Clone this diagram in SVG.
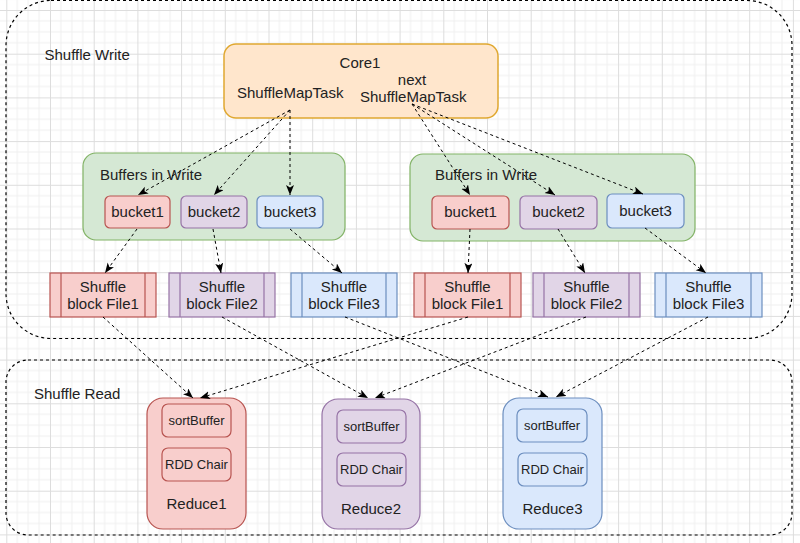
<svg xmlns="http://www.w3.org/2000/svg" width="800" height="543" viewBox="0 0 800 543">
<defs>
<pattern id="grid" patternUnits="userSpaceOnUse" x="6.3" y="10" width="43.7" height="43.7">
<path d="M10.925 0V43.7M21.85 0V43.7M32.775 0V43.7M0 10.925H43.7M0 21.85H43.7M0 32.775H43.7" stroke="#efefef" stroke-width="1" fill="none"/>
<path d="M0.5 0V43.7M0 0.5H43.7" stroke="#dddddd" stroke-width="1" fill="none"/>
</pattern>
<marker id="arr" markerUnits="userSpaceOnUse" markerWidth="11" markerHeight="9" refX="10" refY="4" orient="auto">
<path d="M0,0 L10,4 L0,8 L2.5,4 Z" fill="#000"/>
</marker>
<style>
text{font-family:"Liberation Sans",Arial,sans-serif;font-size:15px;fill:#222;}
.c{text-anchor:middle;}
.s{font-size:13px;}
.cont{fill:none;stroke:#000;stroke-width:1.2;stroke-dasharray:3 3;}
.conn path{fill:none;stroke:#000;stroke-width:1;stroke-dasharray:3 3;marker-end:url(#arr);}
.red{fill:#f8cecc;stroke:#b85450;stroke-width:1.2;}
.pur{fill:#e1d5e7;stroke:#9673a6;stroke-width:1.2;}
.blu{fill:#dae8fc;stroke:#6c8ebf;stroke-width:1.2;}
.grn{fill:#d5e8d4;stroke:#82b366;stroke-width:1.2;}
.org{fill:#ffe6cc;stroke:#e0a830;stroke-width:1.5;}
</style>
</defs>
<rect width="800" height="543" fill="#fff"/>
<rect width="800" height="543" fill="url(#grid)"/>

<g id="shuffle-write">
<rect class="cont" x="6" y="0.5" width="786" height="338" rx="45" ry="45"/>
<text x="44.5" y="60">Shuffle Write</text>
</g>
<g id="shuffle-read">
<rect class="cont" x="6" y="360" width="786" height="175" rx="22" ry="22"/>
<text x="34" y="399">Shuffle Read</text>
</g>

<g id="core1">
<rect class="org" x="224" y="44" width="274" height="74" rx="12" ry="12"/>
<text class="c" x="360" y="68">Core1</text>
<text x="237" y="98">ShuffleMapTask</text>
<text class="c" x="412" y="85">next</text>
<text x="360" y="102">ShuffleMapTask</text>
</g>

<g id="buffers-left">
<rect class="grn" x="83" y="153" width="262" height="87" rx="13" ry="13"/>
<text x="100" y="180">Buffers in Write</text>
</g>
<g id="buffers-right">
<rect class="grn" x="410" y="154" width="285" height="87" rx="13" ry="13"/>
<text x="435" y="180">Buffers in Write</text>
</g>

<g id="l-bucket1"><rect class="red" x="105" y="196" width="65" height="32" rx="5"/><text class="c" x="137.5" y="217">bucket1</text></g>
<g id="l-bucket2"><rect class="pur" x="181" y="196" width="66" height="32" rx="5"/><text class="c" x="214" y="217">bucket2</text></g>
<g id="l-bucket3"><rect class="blu" x="257" y="196" width="66" height="32" rx="5"/><text class="c" x="290" y="217">bucket3</text></g>
<g id="r-bucket1"><rect class="red" x="432" y="196" width="77" height="33" rx="5"/><text class="c" x="470.5" y="217">bucket1</text></g>
<g id="r-bucket2"><rect class="pur" x="520" y="196" width="77" height="33" rx="5"/><text class="c" x="558.5" y="217">bucket2</text></g>
<g id="r-bucket3"><rect class="blu" x="607" y="194" width="77" height="34" rx="5"/><text class="c" x="645.5" y="216">bucket3</text></g>

<g id="l-file1"><rect class="red" x="50" y="273" width="106" height="44"/><path class="red" d="M61 273V317M145 273V317"/><text class="c" x="103" y="292">Shuffle</text><text class="c" x="103" y="309">block File1</text></g>
<g id="l-file2"><rect class="pur" x="169" y="273" width="106" height="44"/><path class="pur" d="M180 273V317M264 273V317"/><text class="c" x="222" y="292">Shuffle</text><text class="c" x="222" y="309">block File2</text></g>
<g id="l-file3"><rect class="blu" x="291" y="273" width="106" height="44"/><path class="blu" d="M302 273V317M386 273V317"/><text class="c" x="344" y="292">Shuffle</text><text class="c" x="344" y="309">block File3</text></g>
<g id="r-file1"><rect class="red" x="414" y="273" width="107" height="44"/><path class="red" d="M425 273V317M510 273V317"/><text class="c" x="467.5" y="292">Shuffle</text><text class="c" x="467.5" y="309">block File1</text></g>
<g id="r-file2"><rect class="pur" x="533" y="273" width="107" height="44"/><path class="pur" d="M544 273V317M629 273V317"/><text class="c" x="586.5" y="292">Shuffle</text><text class="c" x="586.5" y="309">block File2</text></g>
<g id="r-file3"><rect class="blu" x="655" y="273" width="107" height="44"/><path class="blu" d="M666 273V317M751 273V317"/><text class="c" x="708.5" y="292">Shuffle</text><text class="c" x="708.5" y="309">block File3</text></g>

<g id="reduce1">
<rect class="red" x="147" y="398" width="99" height="131" rx="16"/>
<rect class="red" x="162" y="404" width="69" height="33" rx="6"/><text class="c s" x="196.5" y="425">sortBuffer</text>
<rect class="red" x="162" y="448" width="69" height="33" rx="6"/><text class="c s" x="196.5" y="469">RDD Chair</text>
<text class="c" x="196.5" y="509">Reduce1</text>
</g>
<g id="reduce2">
<rect class="pur" x="322" y="399" width="98" height="130" rx="16"/>
<rect class="pur" x="337" y="410" width="69" height="33" rx="6"/><text class="c s" x="371.5" y="431">sortBuffer</text>
<rect class="pur" x="337" y="453" width="69" height="33" rx="6"/><text class="c s" x="371.5" y="474">RDD Chair</text>
<text class="c" x="371" y="514">Reduce2</text>
</g>
<g id="reduce3">
<rect class="blu" x="503" y="398" width="99" height="131" rx="16"/>
<rect class="blu" x="517" y="409" width="70" height="33" rx="6"/><text class="c s" x="552" y="430">sortBuffer</text>
<rect class="blu" x="518" y="453" width="69" height="33" rx="6"/><text class="c s" x="552.5" y="474">RDD Chair</text>
<text class="c" x="552.5" y="514">Reduce3</text>
</g>

<g id="connectors" class="conn">
<path d="M290 110L138 195"/>
<path d="M290 110L214 195"/>
<path d="M290 110L290 195"/>
<path d="M412 104L470 195"/>
<path d="M412 104L555 195"/>
<path d="M412 104L643 194"/>
<path d="M137 229L105 273"/>
<path d="M213 229L221 273"/>
<path d="M290 229L342 273"/>
<path d="M470 229L468 273"/>
<path d="M558 229L585 273"/>
<path d="M645 228L706 273"/>
<path d="M103 317L193 398"/>
<path d="M468 317L200 398"/>
<path d="M222 317L368 398"/>
<path d="M586 317L375 398"/>
<path d="M345 317L548 397"/>
<path d="M708 317L556 397"/>
</g>
</svg>
